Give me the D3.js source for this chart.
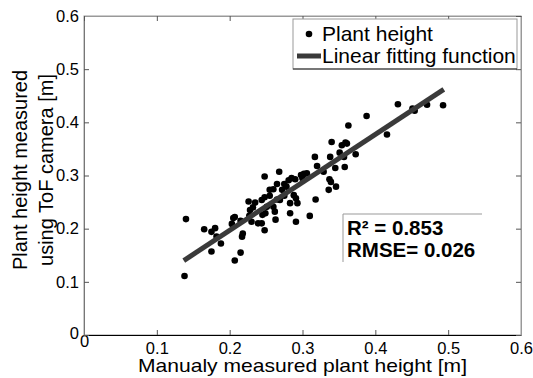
<!DOCTYPE html>
<html lang="en">
<head>
<meta charset="UTF-8" />
<title>Plant height scatter</title>
<style>
  body { margin: 0; background: #fff; }
  svg { display: block; font-family: "Liberation Sans", Arial, sans-serif; }
</style>
</head>
<body>
<svg width="533" height="378"></svg>
<script src="https://d3js.org/d3.v7.min.js"></script>
<script>
  // manual height vs ToF height [m]
  const manual = [
    0.138, 0.140, 0.165, 0.175, 0.180, 0.182, 0.188, 0.175, 0.207, 0.215,
    0.217, 0.218, 0.205, 0.203, 0.215, 0.226, 0.228, 0.227, 0.230, 0.235,
    0.239, 0.244, 0.248, 0.248, 0.245, 0.249, 0.244, 0.248, 0.251, 0.255,
    0.260, 0.262, 0.268, 0.265, 0.272, 0.269, 0.275, 0.281, 0.285, 0.290,
    0.283, 0.288, 0.291, 0.293, 0.291, 0.278, 0.298, 0.302, 0.306, 0.283,
    0.310, 0.318, 0.317, 0.320, 0.329, 0.338, 0.337, 0.339, 0.336, 0.346,
    0.340, 0.345, 0.351, 0.354, 0.359, 0.361, 0.357, 0.358, 0.373, 0.363,
    0.388, 0.416, 0.431, 0.451, 0.454, 0.471, 0.493, 0.207, 0.260, 0.263,
    0.255, 0.265, 0.275, 0.300, 0.232
  ];
  const tof = [
    0.111, 0.218, 0.199, 0.194, 0.201, 0.185, 0.172, 0.157, 0.140, 0.155,
    0.185, 0.191, 0.220, 0.209, 0.215, 0.251, 0.235, 0.224, 0.213, 0.249,
    0.210, 0.254, 0.259, 0.298, 0.226, 0.229, 0.210, 0.197, 0.241, 0.273,
    0.274, 0.232, 0.307, 0.284, 0.273, 0.254, 0.284, 0.291, 0.295, 0.293,
    0.229, 0.263, 0.257, 0.248, 0.213, 0.279, 0.301, 0.303, 0.304, 0.248,
    0.224, 0.255, 0.335, 0.318, 0.307, 0.335, 0.293, 0.288, 0.273, 0.279,
    0.363, 0.314, 0.343, 0.357, 0.362, 0.360, 0.335, 0.316, 0.340, 0.394,
    0.412, 0.377, 0.434, 0.426, 0.422, 0.433, 0.432, 0.222, 0.241, 0.217,
    0.262, 0.255, 0.262, 0.295, 0.240
  ];
  const fitX = [0.137, 0.494];
  const fitY = [0.140, 0.462];
  const ticks = [0, 0.1, 0.2, 0.3, 0.4, 0.5, 0.6];
  const stats = ["R\u00b2 = 0.853", "RMSE= 0.026"];

  const svg = d3.select("svg");
  const mLeft = 84, mRight = 521, mTop = 16, mBottom = 335;

  const x = d3.scaleLinear().domain([0, 0.6]).range([mLeft, mRight]);
  const y = d3.scaleLinear().domain([0, 0.6]).range([mBottom, mTop]);
  const fmt = d => d === 0 ? "0" : d3.format(".1f")(d);

  // box
  svg.append("rect")
    .attr("x", mLeft).attr("y", mTop)
    .attr("width", mRight - mLeft).attr("height", mBottom - mTop)
    .attr("fill", "none").attr("stroke", "#999").attr("stroke-width", 1);

  // axes, ticks pointing inward
  const xAxis = svg.append("g").attr("transform", `translate(0,${mBottom})`)
    .call(d3.axisBottom(x).tickValues(ticks).tickFormat(fmt).tickSizeInner(-5).tickSizeOuter(0).tickPadding(7));
  const yAxis = svg.append("g").attr("transform", `translate(${mLeft},0)`)
    .call(d3.axisLeft(y).tickValues(ticks).tickFormat(fmt).tickSizeInner(-5).tickSizeOuter(0).tickPadding(5));
  svg.append("g").attr("transform", `translate(0,${mTop})`)
    .call(d3.axisTop(x).tickValues(ticks).tickFormat("").tickSizeInner(-5).tickSizeOuter(0));
  svg.append("g").attr("transform", `translate(${mRight},0)`)
    .call(d3.axisRight(y).tickValues(ticks).tickFormat("").tickSizeInner(-5).tickSizeOuter(0));

  svg.selectAll(".domain").attr("stroke", "#999");
  xAxis.select(".domain").attr("stroke", "#000");
  yAxis.select(".domain").attr("stroke", "#777");
  svg.selectAll(".tick line").attr("stroke", "#555");
  svg.selectAll(".tick text")
    .attr("font-family", "Liberation Sans, Arial, sans-serif")
    .attr("font-size", 16.5).attr("fill", "#000");
  // the two "0" labels sit a little higher, like MATLAB draws them
  xAxis.selectAll(".tick text").filter(d => d === 0).attr("y", 0);
  yAxis.selectAll(".tick text").filter(d => d === 0).attr("y", -2);

  // points
  svg.append("g").selectAll("circle")
    .data(manual.map((m, i) => [m, tof[i]]))
    .join("circle")
    .attr("cx", d => x(d[0])).attr("cy", d => y(d[1]))
    .attr("r", 3.3).attr("fill", "#000");

  // fit line
  svg.append("line")
    .attr("x1", x(fitX[0])).attr("y1", y(fitY[0]))
    .attr("x2", x(fitX[1])).attr("y2", y(fitY[1]))
    .attr("stroke", "#3a3a3a").attr("stroke-width", 5);

  // axis titles
  svg.append("text")
    .attr("x", 138).attr("y", 372)
    .attr("font-size", 19)
    .attr("textLength", 329).attr("lengthAdjust", "spacingAndGlyphs")
    .text("Manualy measured plant height [m]");
  const yt = svg.append("text")
    .attr("transform", `translate(0,170) rotate(-90)`)
    .attr("text-anchor", "middle").attr("font-size", 20);
  yt.append("tspan").attr("x", 0).attr("y", 27).text("Plant height measured");
  yt.append("tspan").attr("x", 0).attr("y", 53).text("using ToF camera [m]");

  // legend
  const lg = svg.append("g");
  lg.append("rect").attr("x", 293).attr("y", 19).attr("width", 224).attr("height", 50)
    .attr("fill", "#fff").attr("stroke", "#999");
  lg.append("line").attr("x1", 293).attr("x2", 517).attr("y1", 69).attr("y2", 69)
    .attr("stroke", "#222");
  lg.append("circle").attr("cx", 309).attr("cy", 34).attr("r", 3.3).attr("fill", "#000");
  lg.append("text").attr("x", 322).attr("y", 41).attr("font-size", 21).text("Plant height");
  lg.append("line").attr("x1", 297).attr("x2", 321).attr("y1", 56).attr("y2", 56)
    .attr("stroke", "#3a3a3a").attr("stroke-width", 5);
  lg.append("text").attr("x", 322).attr("y", 63).attr("font-size", 21).text("Linear fitting function");

  // stats box (only left and top edges show)
  const sb = svg.append("g");
  sb.append("rect").attr("x", 343).attr("y", 214).attr("width", 139).attr("height", 48).attr("fill", "#fff");
  sb.append("path").attr("d", "M343,262V214H482").attr("fill", "none").attr("stroke", "#999");
  sb.selectAll("text").data(stats).join("text")
    .attr("x", 347).attr("y", (d, i) => 235 + i * 22)
    .attr("font-size", 20.5).attr("font-weight", "bold")
    .text(d => d);
</script>
</body>
</html>
